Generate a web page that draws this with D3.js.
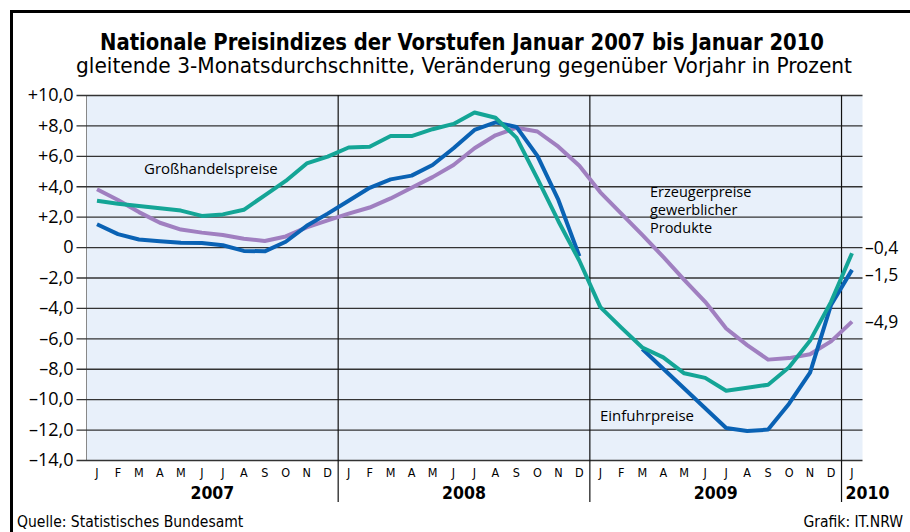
<!DOCTYPE html>
<html lang="de">
<head>
<meta charset="utf-8">
<title>Nationale Preisindizes der Vorstufen</title>
<script src="https://cdn.jsdelivr.net/npm/d3@7"></script>
<style>
  html, body { margin: 0; padding: 0; background: #fff; }
  #chart { width: 910px; height: 532px; }
</style>
</head>
<body>
<div id="chart"></div>
<script>
// -------------------- Data --------------------
const years = ["2007", "2008", "2009", "2010"];
const monthLetters = ["J", "F", "M", "A", "M", "J", "J", "A", "S", "O", "N", "D"];
const yTicks = [10, 8, 6, 4, 2, 0, -2, -4, -6, -8, -10, -12, -14];

// Jan 2007 .. Jan 2010 (37 months)
const grosshandel = [
  3.05, 2.85, 2.7, 2.55, 2.4, 2.05, 2.15, 2.45, 3.4, 4.35, 5.5, 5.95,
  6.55, 6.6, 7.3, 7.3, 7.75, 8.1, 8.85, 8.5, 7.2, 4.5, 1.7, -0.9,
  -3.95, -5.3, -6.6, -7.25, -8.3, -8.6, -9.45, -9.25, -9.05, -7.9, -6.15, -3.6,
  -0.4
];
const einfuhr = [
  1.5, 0.85, 0.5, 0.38, 0.28, 0.27, 0.12, -0.25, -0.28, 0.35, 1.4, 2.2,
  3.05, 3.9, 4.45, 4.7, 5.4, 6.5, 7.7, 8.2, 7.9, 6.0, 3.1, -0.6,
  null, null, -6.7, -8.0, -9.3, -10.6, -11.9, -12.1, -12.0, -10.3, -8.25, -3.8,
  -1.5
];
const erzeuger = [
  3.8, 3.1, 2.3, 1.6, 1.15, 0.95, 0.8, 0.55, 0.4, 0.7, 1.3, 1.75,
  2.2, 2.6, 3.2, 3.9, 4.6, 5.4, 6.5, 7.35, 7.85, 7.6, 6.6, 5.35,
  3.6, 2.2, 0.8, -0.65, -2.15, -3.6, -5.35, -6.45, -7.4, -7.3, -7.05, -6.2,
  -4.9
];

// -------------------- Setup --------------------
const width = 910, height = 532;
const plot = { left: 86.5, right: 862.5, top: 95, bottom: 460 };
const narrow = "'Liberation Sans Narrow', 'DejaVu Sans Condensed', sans-serif";
const labelFont = "'Open Sans', 'Noto Sans', sans-serif";

const periods = [];
years.forEach(y => {
  monthLetters.forEach((m, i) => {
    if (y === "2010" && i > 0) return;
    periods.push({ key: y + "-" + i, year: y, letter: m });
  });
});

const svg = d3.select("#chart")
  .append("svg")
  .attr("width", width)
  .attr("height", height)
  .attr("viewBox", [0, 0, width, height]);

const x = d3.scaleBand()
  .domain(periods.map(p => p.key))
  .range([plot.left, plot.right]);
const xc = key => x(key) + x.bandwidth() / 2;

const y = d3.scaleLinear()
  .domain([-14, 10])
  .range([plot.bottom, plot.top]);

const fmt = v => (v > 0 ? "+" : v < 0 ? "\u2013" : "") +
  (v === 0 ? "0" : Math.abs(v).toFixed(1).replace(".", ","));

// -------------------- Frame --------------------
svg.append("path")
  .attr("d", "M11.5,532 V11.5 H910")
  .attr("fill", "none")
  .attr("stroke", "#000")
  .attr("stroke-width", 3);

// -------------------- Titles --------------------
svg.append("text")
  .attr("x", 462).attr("y", 50)
  .attr("text-anchor", "middle")
  .attr("font-family", narrow)
  .attr("font-weight", "bold")
  .attr("font-size", 23)
  .attr("textLength", 724)
  .attr("lengthAdjust", "spacingAndGlyphs")
  .text("Nationale Preisindizes der Vorstufen Januar 2007 bis Januar 2010");

svg.append("text")
  .attr("x", 464).attr("y", 73)
  .attr("text-anchor", "middle")
  .attr("font-family", narrow)
  .attr("font-size", 21)
  .attr("textLength", 776)
  .attr("lengthAdjust", "spacingAndGlyphs")
  .text("gleitende 3-Monatsdurchschnitte, Veränderung gegenüber Vorjahr in Prozent");

// -------------------- Plot background & grid --------------------
svg.append("rect")
  .attr("x", plot.left).attr("y", plot.top)
  .attr("width", plot.right - plot.left)
  .attr("height", plot.bottom - plot.top)
  .attr("fill", "#e8f0fa");

svg.append("line")
  .attr("x1", plot.left).attr("x2", plot.left)
  .attr("y1", plot.top).attr("y2", plot.bottom)
  .attr("stroke", "#888").attr("stroke-width", 1);

const yAxis = d3.axisLeft(y)
  .tickValues(yTicks)
  .tickSize(-(plot.right - plot.left) - 10)
  .tickFormat(fmt);

svg.append("g")
  .attr("transform", `translate(${plot.left - 10},0)`)
  .call(yAxis)
  .call(g => g.select(".domain").remove())
  .call(g => g.selectAll(".tick line")
    .attr("transform", "translate(10,0)")
    .attr("x2", -10)
    .attr("x1", plot.right - plot.left)
    .attr("stroke", "#333")
    .attr("stroke-width", 1.4))
  .call(g => g.selectAll(".tick text")
    .attr("x", -3)
    .attr("fill", "#000")
    .attr("font-family", labelFont)
    .attr("font-size", 18));

// year dividers
svg.append("g")
  .selectAll("line")
  .data(years.slice(1))
  .join("line")
  .attr("x1", d => x(d + "-0")).attr("x2", d => x(d + "-0"))
  .attr("y1", plot.top).attr("y2", 502)
  .attr("stroke", "#111")
  .attr("stroke-width", 1.2);

// -------------------- X labels --------------------
svg.append("g")
  .selectAll("text")
  .data(periods)
  .join("text")
  .attr("x", d => xc(d.key))
  .attr("y", 477)
  .attr("text-anchor", "middle")
  .attr("font-family", narrow)
  .attr("font-size", 12.5)
  .text(d => d.letter);

svg.append("g")
  .selectAll("text")
  .data(years)
  .join("text")
  .attr("x", d => {
    const ks = periods.filter(p => p.year === d);
    if (ks.length === 1) return x(ks[0].key) + 4;
    return (x(ks[0].key) + x(ks[ks.length - 1].key) + x.bandwidth()) / 2;
  })
  .attr("y", 499)
  .attr("text-anchor", d => d === "2010" ? "start" : "middle")
  .attr("font-family", narrow)
  .attr("font-weight", "bold")
  .attr("font-size", 17.5)
  .text(d => d);

// -------------------- Lines --------------------
const series = [
  { name: "Erzeugerpreise", values: erzeuger, color: "#a07fc0" },
  { name: "Einfuhrpreise", values: einfuhr, color: "#0a62b4" },
  { name: "Großhandelspreise", values: grosshandel, color: "#14a596" }
];

const line = d3.line()
  .defined(d => d.v !== null)
  .x(d => xc(d.key))
  .y(d => y(d.v));

svg.append("g")
  .selectAll("path")
  .data(series)
  .join("path")
  .attr("d", s => line(s.values.map((v, i) => ({ key: periods[i].key, v }))))
  .attr("fill", "none")
  .attr("stroke", s => s.color)
  .attr("stroke-width", 4)
  .attr("stroke-linejoin", "round");

// -------------------- Series labels --------------------
svg.append("text")
  .attr("x", 144).attr("y", 174)
  .attr("font-family", labelFont)
  .attr("font-size", 15)
  .text("Großhandelspreise");

svg.append("text")
  .attr("x", 600).attr("y", 421)
  .attr("font-family", labelFont)
  .attr("font-size", 15)
  .text("Einfuhrpreise");

svg.append("text")
  .attr("font-family", labelFont)
  .attr("font-size", 14.5)
  .selectAll("tspan")
  .data(["Erzeugerpreise", "gewerblicher", "Produkte"])
  .join("tspan")
  .attr("x", 650)
  .attr("y", (d, i) => 197 + i * 18)
  .text(d => d);

// end values, pushed apart where they would overlap
const ends = series.map(s => ({ v: s.values[s.values.length - 1], pos: y(s.values[s.values.length - 1]) }))
  .sort((a, b) => a.pos - b.pos);
for (let i = 1; i < ends.length; i++) {
  const gap = ends[i].pos - ends[i - 1].pos;
  if (gap < 27) {
    const push = (27 - gap) / 2;
    ends[i - 1].pos -= push;
    ends[i].pos += push;
  }
}

svg.append("g")
  .selectAll("text")
  .data(ends)
  .join("text")
  .attr("x", 865)
  .attr("y", d => d.pos)
  .attr("dy", "0.35em")
  .attr("font-family", labelFont)
  .attr("font-size", 17.5)
  .text(d => fmt(d.v));

// -------------------- Footer --------------------
svg.append("text")
  .attr("x", 17).attr("y", 527)
  .attr("font-family", narrow)
  .attr("font-size", 15.5)
  .text("Quelle: Statistisches Bundesamt");

svg.append("text")
  .attr("x", 903).attr("y", 527)
  .attr("text-anchor", "end")
  .attr("font-family", narrow)
  .attr("font-size", 15.5)
  .text("Grafik: IT.NRW");
</script>
</body>
</html>
